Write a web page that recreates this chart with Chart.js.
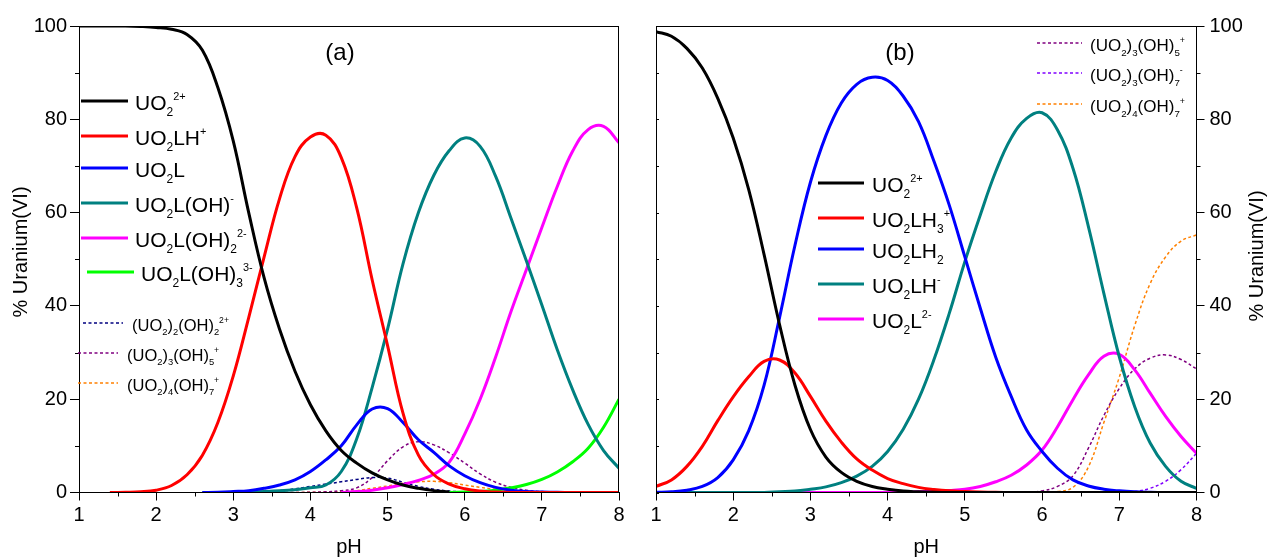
<!DOCTYPE html>
<html lang="en">

<head>
    <meta charset="UTF-8">
    <meta name="viewport" content="width=device-width, initial-scale=1.0">
    <script src="https://cdn.jsdelivr.net/npm/chart.js"></script>
    <style>
        body { margin: 0; background: #fff; width: 1268px; height: 559px; overflow: hidden; position: relative; }
        canvas { position: absolute; top: 0; }
        #speciationA { left: 0; }
        #speciationB { left: 640px; }
    </style>
</head>

<body>
    <canvas id="speciationA" width="640" height="559"></canvas>
    <canvas id="speciationB" width="628" height="559"></canvas>

    <script>
        // pH grid shared by every curve
        const pH = [1.0, 1.2, 1.4, 1.6, 1.8, 2.0, 2.2, 2.4, 2.6, 2.8, 3.0, 3.2, 3.4, 3.6, 3.8, 4.0, 4.2, 4.4,
            4.6, 4.8, 5.0, 5.2, 5.4, 5.6, 5.8, 6.0, 6.2, 6.4, 6.6, 6.8, 7.0, 7.2, 7.4, 7.6, 7.8, 8.0];

        const xTicks = [1, 2, 3, 4, 5, 6, 7, 8];
        const xMinor = [1.5, 2.5, 3.5, 4.5, 5.5, 6.5, 7.5];
        const yTicks = [0, 20, 40, 60, 80, 100];
        const yMinor = [10, 30, 50, 70, 90];

        // ---- panel (a) ----
        const a_UO2 = [100, 100, 100, 100, 99.9, 99.7, 99.3, 98.2, 94.8, 86.8, 75.3, 60, 46, 35, 26, 18.8, 13.2, 9.0,
            6.3, 4.2, 2.7, 1.6, 0.9, 0.4, 0.1, null, null, null, null, null, null, null, null, null, null, null];
        const a_UO2LH = [null, null, 0, 0.05, 0.15, 0.5, 1.5, 3.8, 8, 15, 25, 37.5, 50.5, 63, 72, 76.2, 76.6, 71.8,
            61, 45.6, 31.5, 17, 8, 3.8, 1.8, 0.8, 0.3, 0.1, 0, 0, 0, 0, 0, 0, 0, 0];
        const a_UO2L = [null, null, null, null, null, null, null, null, 0, 0.05, 0.2, 0.4, 0.9, 1.6, 2.7, 4.5, 7, 10,
            14.5, 17.9, 18, 15, 11.3, 8.6, 5.7, 3.6, 2.1, 1.1, 0.5, 0.2, 0.1, 0.05, 0, 0, null, null];
        const a_UO2LOH = [null, null, null, null, null, null, null, null, 0, 0, 0.05, 0.1, 0.2, 0.35, 0.6, 1, 1.6, 4.5,
            11.5, 22.5, 35, 49, 60, 68, 73.3, 76, 74.2, 67.8, 58.8, 49.6, 40.2, 30.6, 22, 14.6, 9, 5.2];
        const a_UO2LOH2 = [null, null, null, null, null, null, null, null, null, null, null, null, null, null, null, null, null, 0,
            0.2, 0.5, 1, 1.7, 2.6, 3.9, 6.5, 12.5, 20, 29, 38.8, 47.8, 56.8, 65.6, 73.2, 77.8, 78.5, 75];
        const a_UO2LOH3 = [null, null, null, null, null, null, null, null, null, null, null, null, null, null, null, null, null, null,
            null, null, null, null, null, null, 0, 0.1, 0.2, 0.5, 1, 1.7, 2.8, 4.4, 6.6, 9.5, 14, 20];
        const a_U2OH2 = [null, null, null, null, null, null, null, null, 0, 0.02, 0.05, 0.1, 0.2, 0.4, 0.8, 1.3, 1.8, 2.3,
            2.8, 3.2, 3.1, 2.2, 1.3, 0.7, 0.3, 0.1, 0, 0, 0, 0, 0, 0, 0, 0, null, null];
        const a_U3OH5 = [null, null, null, null, null, null, null, null, null, null, null, null, null, 0, 0, 0.05, 0.15, 0.4,
            1, 3.2, 6.8, 9.8, 10.9, 10.2, 8.5, 6.3, 4, 2.2, 1.1, 0.5, 0.2, 0.1, 0, 0, null, null];
        const a_U4OH7 = [null, null, null, null, null, null, null, null, null, null, null, null, null, 0, 0, 0.05, 0.1, 0.2,
            0.4, 0.9, 1.4, 2.0, 2.3, 2.4, 2.1, 1.6, 1.1, 0.7, 0.4, 0.2, 0.1, 0.05, 0, 0, null, null];

        // ---- panel (b) ----
        const b_UO2 = [98.8, 97.8, 95.2, 91, 84.5, 76, 65, 51, 36, 23, 13.5, 7.6, 4.3, 2.4, 1.3, 0.7, 0.3, 0.15,
            0.05, 0, 0, 0, 0, 0, 0, 0, 0, 0, 0, 0, 0, 0, 0, 0, 0, 0];
        const b_UO2LH3 = [1.3, 2.7, 5.6, 9.9, 15.4, 20.5, 24.8, 28.1, 28.4, 25.6, 20.6, 15.3, 10.8, 7.2, 4.8, 3, 1.9, 1.1,
            0.65, 0.35, 0.2, 0.1, 0.05, 0, 0, 0, 0, 0, 0, 0, 0, 0, 0, 0, 0, 0];
        const b_UO2LH2 = [0.05, 0.15, 0.5, 1.3, 3.2, 7, 13.2, 23, 37.5, 53, 66.5, 76.5, 83.5, 87.5, 89, 88.3, 85, 79.5,
            71, 61.5, 50.5, 39.5, 29, 20.6, 13.4, 8.8, 5.2, 2.7, 1.4, 0.7, 0.35, 0.15, 0.05, 0, 0, 0];
        const b_UO2LH = [0, 0, 0, 0, 0, 0, 0, 0, 0.15, 0.3, 0.7, 1.2, 2.1, 3.5, 5.6, 8.8, 13.5, 20,
            28.5, 38.5, 49.5, 59.5, 68.8, 76, 80.2, 81.4, 77.7, 69.5, 57, 42.7, 29.1, 18.4, 10.6, 5.6, 2.4, 0.9];
        const b_UO2L = [0, 0, 0, 0, 0, 0, 0, 0, 0, 0, 0, 0, 0, 0, 0, 0, 0, 0.15,
            0.3, 0.45, 0.7, 1.3, 2.3, 3.7, 5.9, 9.1, 14.1, 19.9, 25.2, 29.2, 29.6, 26.3, 21.3, 16.3, 12, 8.4];
        const b_U3OH5 = [0, 0, 0, 0, 0, 0, 0, 0, 0, 0, 0, 0, 0, 0, 0, 0, 0, 0,
            0, 0, 0, 0, 0, 0, 0.1, 0.35, 1.3, 3.6, 9.5, 16.5, 22.3, 26.5, 28.8, 29.5, 28.5, 26.5];
        const b_U3OH7 = [0, 0, 0, 0, 0, 0, 0, 0, 0, 0, 0, 0, 0, 0, 0, 0, 0, 0,
            0, 0, 0, 0, 0, 0, 0, 0, 0, 0, 0, 0, 0, 0.2, 0.9, 2.4, 4.9, 8.4];
        const b_U4OH7 = [0, 0, 0, 0, 0, 0, 0, 0, 0, 0, 0, 0, 0, 0, 0, 0, 0, 0,
            0, 0, 0, 0, 0, 0, 0, 0, 0.2, 1.1, 5.5, 15, 24.7, 35.8, 44.8, 50.5, 53.9, 55.2];

        const FONT = "'Liberation Sans', Arial, sans-serif";
        Chart.defaults.font.family = FONT;
        Chart.defaults.color = '#000';

        function pts(vals) {
            return pH.map((x, i) => ({ x: x, y: vals[i] }));
        }

        function solid(label, vals, color) {
            return {
                label: label, data: pts(vals), borderColor: color, backgroundColor: color,
                borderWidth: 3, pointRadius: 0, tension: 0.4, fill: false
            };
        }

        function dashed(label, vals, color) {
            return {
                label: label, data: pts(vals), borderColor: color, backgroundColor: color,
                borderWidth: 1.5, borderDash: [3, 2.5], pointRadius: 0, tension: 0.4, fill: false
            };
        }

        // "UO_{2}^{2+}" -> pieces with baseline shift
        function parseRich(s) {
            const out = [];
            const re = /([_^])\{([^}]*)\}/g;
            let m, last = 0;
            while ((m = re.exec(s))) {
                if (m.index > last) out.push({ t: s.slice(last, m.index), m: 0 });
                out.push({ t: m[2], m: m[1] === '_' ? 1 : -1 });
                last = re.lastIndex;
            }
            if (last < s.length) out.push({ t: s.slice(last), m: 0 });
            return out;
        }

        function drawRich(ctx, s, x, y, size) {
            let cx = x;
            ctx.textBaseline = 'alphabetic';
            ctx.textAlign = 'left';
            for (const p of parseRich(s)) {
                const fs = p.m === 1 ? size * 0.57 : (p.m === -1 ? size * 0.52 : size);
                ctx.font = fs.toFixed(1) + 'px ' + FONT;
                const dy = p.m === 1 ? size * 0.3 : (p.m === -1 ? -size * 0.45 : 0);
                ctx.fillText(p.t, cx, y + dy);
                cx += ctx.measureText(p.t).width;
            }
        }

        function extras(cfg) {
            return {
                id: 'extras',
                afterDraw(chart) {
                    const { ctx, chartArea: a, scales: { x, y } } = chart;
                    ctx.save();
                    ctx.fillStyle = '#000';
                    ctx.strokeStyle = '#000';
                    ctx.lineWidth = 1;
                    ctx.setLineDash([]);
                    ctx.strokeRect(Math.round(a.left) + 0.5, Math.round(a.top) + 0.5,
                        Math.round(a.right - a.left) - 1, Math.round(a.bottom - a.top) - 1);

                    // minor ticks
                    ctx.beginPath();
                    for (const v of xMinor) {
                        const px = Math.round(x.getPixelForValue(v)) + 0.5;
                        ctx.moveTo(px, a.bottom);
                        ctx.lineTo(px, a.bottom + 4);
                    }
                    for (const v of yMinor) {
                        const py = Math.round(y.getPixelForValue(v)) + 0.5;
                        if (cfg.side === 'left') { ctx.moveTo(a.left, py); ctx.lineTo(a.left - 4, py); }
                        else { ctx.moveTo(a.right, py); ctx.lineTo(a.right + 4, py); }
                    }
                    if (cfg.innerTicks) {
                        for (const v of yMinor.concat(yTicks)) {
                            const py = Math.round(y.getPixelForValue(v)) + 0.5;
                            ctx.moveTo(a.left, py);
                            ctx.lineTo(a.left + 3, py);
                        }
                    }
                    ctx.stroke();

                    // axis titles
                    ctx.font = '20px ' + FONT;
                    ctx.textAlign = 'center';
                    ctx.textBaseline = 'middle';
                    ctx.fillText('pH', (a.left + a.right) / 2, 547);
                    ctx.save();
                    ctx.translate(cfg.titleX, cfg.titleY);
                    ctx.rotate(-Math.PI / 2);
                    ctx.fillText('% Uranium(VI)', 0, 0);
                    ctx.restore();

                    // panel label
                    ctx.font = '24px ' + FONT;
                    ctx.fillText(cfg.panel, cfg.panelX, 53);

                    // legend
                    for (const e of cfg.legend) {
                        ctx.beginPath();
                        ctx.strokeStyle = e.color;
                        ctx.lineWidth = e.dash ? 1.5 : 3;
                        ctx.setLineDash(e.dash ? [3, 2.5] : []);
                        ctx.moveTo(e.x0, e.y);
                        ctx.lineTo(e.x1, e.y);
                        ctx.stroke();
                        ctx.setLineDash([]);
                        ctx.fillStyle = '#000';
                        drawRich(ctx, e.text, e.tx, e.y + (e.dash ? 7.5 : 8.5), e.size);
                    }
                    ctx.restore();
                }
            };
        }

        function axes(side, yWidth) {
            return {
                x: {
                    type: 'linear', min: 1, max: 8,
                    afterBuildTicks: s => { s.ticks = xTicks.map(v => ({ value: v })); },
                    ticks: { font: { size: 20 }, color: '#000', padding: 3, maxRotation: 0 },
                    grid: { drawOnChartArea: false, drawTicks: true, tickLength: 8, color: '#000', tickColor: '#000' },
                    border: { display: true, color: '#000', width: 1 },
                    afterFit: s => { s.height = 66.5; }
                },
                y: {
                    type: 'linear', min: 0, max: 100, position: side,
                    afterBuildTicks: s => { s.ticks = yTicks.map(v => ({ value: v })); },
                    ticks: { font: { size: 20 }, color: '#000', padding: side === 'left' ? 3 : 5 },
                    grid: { drawOnChartArea: false, drawTicks: true, tickLength: side === 'left' ? 9 : 8, color: '#000', tickColor: '#000' },
                    border: { display: true, color: '#000', width: 1 },
                    afterFit: s => { s.width = yWidth; }
                }
            };
        }

        new Chart(document.getElementById('speciationA'), {
            type: 'line',
            data: {
                datasets: [
                    solid('UO2 2+', a_UO2, '#000000'),
                    solid('UO2LH+', a_UO2LH, '#ff0000'),
                    solid('UO2L', a_UO2L, '#0000ff'),
                    solid('UO2L(OH)-', a_UO2LOH, '#008080'),
                    solid('UO2L(OH)2 2-', a_UO2LOH2, '#ff00ff'),
                    solid('UO2L(OH)3 3-', a_UO2LOH3, '#00ff00'),
                    dashed('(UO2)2(OH)2 2+', a_U2OH2, '#000080'),
                    dashed('(UO2)3(OH)5+', a_U3OH5, '#800080'),
                    dashed('(UO2)4(OH)7+', a_U4OH7, '#ff8000')
                ]
            },
            options: {
                responsive: false,
                animation: false,
                layout: { padding: { top: 26, right: 21, left: 0, bottom: 0 } },
                plugins: { legend: { display: false }, tooltip: { enabled: false } },
                scales: axes('left', 79)
            },
            plugins: [extras({
                side: 'left', innerTicks: false, titleX: 21, titleY: 252, panel: '(a)', panelX: 340,
                legend: [
                    { text: 'UO_{2}^{2+}', color: '#000000', y: 101, x0: 81, x1: 128, tx: 135, size: 21 },
                    { text: 'UO_{2}LH^{+}', color: '#ff0000', y: 136, x0: 81, x1: 128, tx: 135, size: 21 },
                    { text: 'UO_{2}L', color: '#0000ff', y: 168, x0: 81, x1: 128, tx: 135, size: 21 },
                    { text: 'UO_{2}L(OH)^{-}', color: '#008080', y: 203, x0: 81, x1: 128, tx: 135, size: 21 },
                    { text: 'UO_{2}L(OH)_{2}^{2-}', color: '#ff00ff', y: 238, x0: 81, x1: 128, tx: 135, size: 21 },
                    { text: 'UO_{2}L(OH)_{3}^{3-}', color: '#00ff00', y: 272, x0: 87, x1: 134, tx: 141, size: 21 },
                    { text: '(UO_{2})_{2}(OH)_{2}^{2+}', color: '#000080', y: 323, x0: 83, x1: 123, tx: 132, size: 16.5, dash: true },
                    { text: '(UO_{2})_{3}(OH)_{5}^{+}', color: '#800080', y: 353, x0: 78, x1: 118, tx: 127, size: 16.5, dash: true },
                    { text: '(UO_{2})_{4}(OH)_{7}^{+}', color: '#ff8000', y: 383, x0: 78, x1: 118, tx: 127, size: 16.5, dash: true }
                ]
            })]
        });

        new Chart(document.getElementById('speciationB'), {
            type: 'line',
            data: {
                datasets: [
                    solid('UO2 2+', b_UO2, '#000000'),
                    solid('UO2LH3+', b_UO2LH3, '#ff0000'),
                    solid('UO2LH2', b_UO2LH2, '#0000ff'),
                    solid('UO2LH-', b_UO2LH, '#008080'),
                    solid('UO2L2-', b_UO2L, '#ff00ff'),
                    dashed('(UO2)3(OH)5+', b_U3OH5, '#800080'),
                    dashed('(UO2)3(OH)7-', b_U3OH7, '#8000ff'),
                    dashed('(UO2)4(OH)7+', b_U4OH7, '#ff8000')
                ]
            },
            options: {
                responsive: false,
                animation: false,
                layout: { padding: { top: 26, right: 0, left: 16, bottom: 0 } },
                plugins: { legend: { display: false }, tooltip: { enabled: false } },
                scales: axes('right', 71.5)
            },
            plugins: [extras({
                side: 'right', innerTicks: true, titleX: 617, titleY: 256, panel: '(b)', panelX: 260,
                legend: [
                    { text: 'UO_{2}^{2+}', color: '#000000', y: 183, x0: 178, x1: 224, tx: 232, size: 21 },
                    { text: 'UO_{2}LH_{3}^{+}', color: '#ff0000', y: 218, x0: 178, x1: 224, tx: 232, size: 21 },
                    { text: 'UO_{2}LH_{2}', color: '#0000ff', y: 249, x0: 178, x1: 224, tx: 232, size: 21 },
                    { text: 'UO_{2}LH^{-}', color: '#008080', y: 284, x0: 178, x1: 224, tx: 232, size: 21 },
                    { text: 'UO_{2}L^{2-}', color: '#ff00ff', y: 319, x0: 178, x1: 224, tx: 232, size: 21 },
                    { text: '(UO_{2})_{3}(OH)_{5}^{+}', color: '#800080', y: 43, x0: 397, x1: 442, tx: 450, size: 17, dash: true },
                    { text: '(UO_{2})_{3}(OH)_{7}^{-}', color: '#8000ff', y: 73, x0: 397, x1: 442, tx: 450, size: 17, dash: true },
                    { text: '(UO_{2})_{4}(OH)_{7}^{+}', color: '#ff8000', y: 104, x0: 397, x1: 442, tx: 450, size: 17, dash: true }
                ]
            })]
        });
    </script>
</body>

</html>
